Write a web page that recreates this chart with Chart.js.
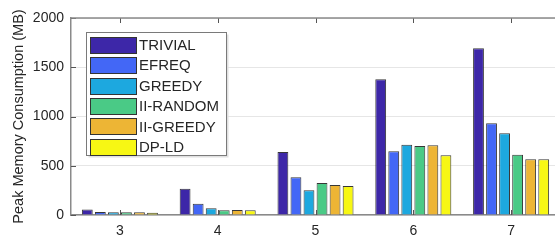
<!DOCTYPE html>
<html>
<head>
<meta charset="utf-8">
<script src="https://cdn.jsdelivr.net/npm/chart.js@4/dist/chart.umd.min.js"></script>
<style>
  html, body { margin: 0; padding: 0; background: #fff; overflow: hidden; width: 555px; height: 241px; }
  #wrap { position: absolute; left: 0; top: 0; width: 570px; height: 241px; }
</style>
</head>
<body>
<div id="wrap"><canvas id="c" width="570" height="241"></canvas></div>
<script>
const categories = ['3', '4', '5', '6', '7'];
const seriesNames = ['TRIVIAL', 'EFREQ', 'GREEDY', 'II-RANDOM', 'II-GREEDY', 'DP-LD'];
const trivial  = [55, 267, 640, 1378, 1692];
const efreq    = [30, 115, 383, 647, 931];
const greedy   = [28, 68, 251, 714, 829];
const iiRandom = [28, 48, 325, 700, 612];
const iiGreedy = [27, 51, 305, 708, 565];
const dpLd     = [22, 48, 294, 606, 565];
const yTicks   = [0, 500, 1000, 1500, 2000];
const colors = ['#3D27A8', '#4367F6', '#1DA8DF', '#4ACA86', '#EDB535', '#F7F714'];

const seriesValues = [trivial, efreq, greedy, iiRandom, iiGreedy, dpLd];
const datasets = seriesNames.map((n, i) => ({
  label: n,
  data: seriesValues[i],
  backgroundColor: colors[i],
  borderColor: 'rgba(20,20,20,0.85)',
  borderWidth: 1,
  borderSkipped: 'bottom',
  categoryPercentage: 0.8,
  barPercentage: 0.83
}));

const FONT = "'Liberation Sans', Arial, Helvetica, sans-serif";
const TXT = '#262626';

const decor = {
  id: 'decor',
  afterDatasetsDraw(chart) {
    const ctx = chart.ctx;
    const a = chart.chartArea;
    const x = chart.scales.x, y = chart.scales.y;
    ctx.save();
    ctx.strokeStyle = '#555';
    ctx.lineWidth = 1;
    ctx.beginPath();
    yTicks.forEach(v => {
      const py = Math.round(y.getPixelForValue(v)) + 0.5;
      ctx.moveTo(a.left, py); ctx.lineTo(a.left + 5, py);
    });
    categories.forEach((c, i) => {
      const px = Math.round(x.getPixelForValue(i)) + 0.5;
      ctx.moveTo(px, a.top); ctx.lineTo(px, a.top + 5);
      ctx.moveTo(px, a.bottom); ctx.lineTo(px, a.bottom - 5);
    });
    ctx.stroke();
    ctx.strokeStyle = '#8a8a8a';
    ctx.lineWidth = 1.5;
    ctx.beginPath();
    ctx.moveTo(a.left, a.top); ctx.lineTo(a.right, a.top);
    ctx.stroke();
    const L = 86.5, T = 32.5, W = 140, H = 123;
    ctx.fillStyle = '#e0e0e0';
    ctx.fillRect(L + 2, T + 2, W, H);
    ctx.fillStyle = '#fff';
    ctx.fillRect(L, T, W, H);
    ctx.strokeStyle = '#7a7a7a';
    ctx.lineWidth = 1;
    ctx.strokeRect(L, T, W, H);
    ctx.font = '15px ' + FONT;
    ctx.textBaseline = 'middle';
    ctx.textAlign = 'left';
    chart.data.datasets.forEach((ds, i) => {
      const cy = 45 + i * 20.35;
      ctx.fillStyle = ds.backgroundColor;
      ctx.fillRect(90.5, Math.round(cy - 8) + 0.5, 46, 16);
      ctx.strokeStyle = '#333';
      ctx.strokeRect(90.5, Math.round(cy - 8) + 0.5, 46, 16);
      ctx.fillStyle = TXT;
      ctx.fillText(ds.label, 139, cy + 1);
    });
    ctx.restore();
  }
};

new Chart(document.getElementById('c'), {
  type: 'bar',
  data: { labels: categories, datasets },
  options: {
    responsive: false,
    animation: false,
    devicePixelRatio: 1,
    layout: { padding: { top: 18, right: 10, left: 0, bottom: 0 } },
    plugins: { legend: { display: false }, tooltip: { enabled: false } },
    scales: {
      x: {
        grid: { display: false, drawTicks: false },
        border: { display: true, color: '#8a8a8a', width: 1.5 },
        ticks: { color: TXT, font: { family: FONT, size: 14 }, padding: 8 },
        afterFit(s) { s.height = 26; }
      },
      y: {
        min: 0, max: 2000,
        afterBuildTicks(s) { s.ticks = yTicks.map(v => ({ value: v })); },
        grid: { color: '#e6e6e6', drawTicks: false },
        border: { display: true, color: '#8a8a8a', width: 1.5 },
        ticks: { color: TXT, font: { family: FONT, size: 14 }, padding: 7,
                 callback: v => String(v) },
        title: { display: true, text: 'Peak Memory Consumption (MB)', color: TXT,
                 font: { family: FONT, size: 14.5 }, padding: { top: 10, bottom: 0 } },
        afterFit(s) { s.width = 71; }
      }
    }
  },
  plugins: [decor]
});
</script>
</body>
</html>
